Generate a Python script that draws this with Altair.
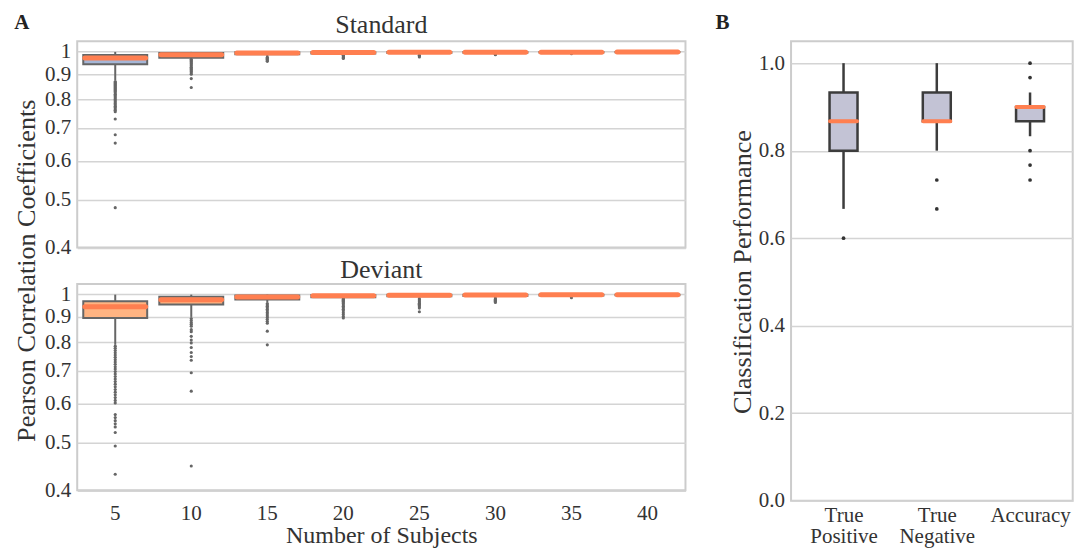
import json
import altair as alt
import pandas as pd

FONT = "Liberation Serif"
TXT = "#333333"

# ---------------- Panel A data ----------------
subjects = [5, 10, 15, 20, 25, 30, 35, 40]

std_q1 = [0.943, 0.972, 0.988, 0.992, 0.994, 0.995, 0.996, 0.997]
std_q3 = [0.985, 0.994, 0.997, 0.998, 0.999, 0.999, 0.999, 0.999]
std_med = [0.971, 0.986, 0.994, 0.996, 0.997, 0.998, 0.998, 0.999]
std_lo = [0.875, 0.970, 0.980, 0.987, 0.990, 0.992, 0.994, 0.995]
std_hi = [0.999, 0.999, 0.999, 0.999, 0.999, 0.999, 0.999, 0.999]

std_out_5 = [0.870, 0.866, 0.862, 0.858, 0.854, 0.850, 0.846, 0.842, 0.838, 0.834,
             0.830, 0.825, 0.820, 0.815, 0.810, 0.805, 0.800, 0.795, 0.790, 0.785,
             0.780, 0.775, 0.770, 0.765, 0.760, 0.755, 0.730, 0.678, 0.652, 0.482]
std_out_10 = [0.965, 0.960, 0.955, 0.950, 0.945, 0.940, 0.935, 0.930, 0.925, 0.920,
              0.915, 0.910, 0.905, 0.900, 0.882, 0.846]
std_out_15 = [0.975, 0.970, 0.965, 0.960, 0.956]
std_out_20 = [0.984, 0.980, 0.976, 0.972, 0.969]
std_out_25 = [0.984, 0.980, 0.976]
std_out_30 = [0.988, 0.986]
std_out_35 = [0.991]
std_out_40 = []

dev_q1 = [0.896, 0.954, 0.977, 0.987, 0.991, 0.993, 0.995, 0.996]
dev_q3 = [0.969, 0.989, 0.995, 0.997, 0.998, 0.999, 0.999, 0.999]
dev_med = [0.944, 0.975, 0.988, 0.994, 0.996, 0.997, 0.998, 0.998]
dev_lo = [0.790, 0.900, 0.963, 0.985, 0.985, 0.988, 0.990, 0.993]
dev_hi = [0.999, 0.999, 0.999, 0.999, 0.999, 0.999, 0.999, 0.999]

dev_out_5 = [0.785, 0.777, 0.769, 0.761, 0.753, 0.745, 0.737, 0.729, 0.721, 0.713,
             0.705, 0.697, 0.689, 0.681, 0.673, 0.665, 0.657, 0.649, 0.641, 0.633,
             0.625, 0.617, 0.609, 0.602, 0.570, 0.562, 0.554, 0.546, 0.538, 0.524,
             0.492, 0.431]
dev_out_10 = [0.893, 0.885, 0.877, 0.870, 0.862, 0.848, 0.840, 0.822, 0.808, 0.797,
              0.780, 0.762, 0.748, 0.735, 0.693, 0.636, 0.448]
dev_out_15 = [0.958, 0.952, 0.946, 0.940, 0.933, 0.926, 0.919, 0.912, 0.905, 0.898,
              0.890, 0.882, 0.874, 0.842, 0.790]
dev_out_20 = [0.983, 0.978, 0.973, 0.968, 0.963, 0.958, 0.952, 0.946, 0.940, 0.933,
              0.926, 0.918, 0.910, 0.902, 0.896]
dev_out_25 = [0.980, 0.975, 0.970, 0.965, 0.960, 0.955, 0.950, 0.944, 0.938, 0.922]
dev_out_30 = [0.983, 0.978, 0.973, 0.968, 0.963]
dev_out_35 = [0.985]
dev_out_40 = []

y_ticks_A = [0.4, 0.5, 0.6, 0.7, 0.8, 0.9, 1.0]

# ---------------- Panel B data ----------------
cats_B = ["True Positive", "True Negative", "Accuracy"]
b_q1 = [0.800, 0.867, 0.867]
b_q3 = [0.933, 0.933, 0.900]
b_med = [0.867, 0.867, 0.900]
b_lo = [0.667, 0.800, 0.833]
b_hi = [1.000, 1.000, 0.933]
b_out_tp = [0.600]
b_out_tn = [0.733, 0.667]
b_out_acc = [1.000, 0.967, 0.800, 0.767, 0.733]
y_ticks_B = [0.0, 0.2, 0.4, 0.6, 0.8, 1.0]

MED_COLOR = "#FF7F50"


def outlier_frame(lists, keys, keyname):
    rows = []
    for k, vals in zip(keys, lists):
        for v in vals:
            rows.append({keyname: k, "value": v})
    return pd.DataFrame(rows, columns=[keyname, "value"])


def panel_A(q1, q3, med, lo, hi, outs, fill, title, first, title_offset):
    box_df = pd.DataFrame({"subjects": subjects, "q1": q1, "q3": q3,
                           "med": med, "lo": lo, "hi": hi})
    out_df = outlier_frame(outs, subjects, "subjects")
    yscale = alt.Scale(type="log", domain=[0.4, 1.05], nice=False, zero=False)
    lab = "datum.value == 1 ? '1' : format(datum.value, '.1f')"
    if first:
        yaxis = alt.Axis(values=y_ticks_A, labelExpr=lab,
                         title="Pearson Correlation Coefficients", titleFontSize=26.2,
                         titleX=-42.7, titleY=229.2, titleAngle=-90, titleAlign="center",
                         titleBaseline="alphabetic", labelFontSize=21, labelPadding=6.5)
        xaxis = None
    else:
        yaxis = alt.Axis(values=y_ticks_A, labelExpr=lab, title=None,
                         labelFontSize=21, labelPadding=6.5)
        xaxis = alt.Axis(title="Number of Subjects", titleFontSize=24, titleX=304.5,
                         titleY=52.5, titleBaseline="alphabetic", labelFontSize=21,
                         labelBaseline="alphabetic", labelPadding=29, labelAngle=0,
                         grid=False)
    xs = alt.Scale(paddingInner=0, paddingOuter=0)
    x = alt.X("subjects:O", scale=xs, axis=xaxis)

    def Y(f):
        return alt.Y(f, type="quantitative", scale=yscale, axis=yaxis)

    whisk = alt.Chart(box_df).mark_rule(color="#666666", strokeWidth=2).encode(
        x=x, y=Y("lo"), y2="hi")
    box = alt.Chart(box_df).mark_bar(size=64, fill=fill, stroke="#666666",
                                     strokeWidth=2).encode(x=x, y=Y("q1"), y2="q3")
    pts = alt.Chart(out_df).mark_circle(size=10, color="#666666", opacity=1).encode(
        x=x, y=Y("value"))
    medm = alt.Chart(box_df).mark_tick(size=66, thickness=5, color=MED_COLOR,
                                       opacity=1, cornerRadius=2.5).encode(
        x=x, y=Y("med"))
    return alt.layer(whisk, box, pts, medm).properties(
        width=609, height=206.5,
        title=alt.TitleParams(title, fontSize=26, font=FONT, fontWeight="normal",
                              anchor="middle", frame="group", offset=title_offset,
                              baseline="alphabetic", color=TXT))


std = panel_A(std_q1, std_q3, std_med, std_lo, std_hi,
              [std_out_5, std_out_10, std_out_15, std_out_20, std_out_25,
               std_out_30, std_out_35, std_out_40],
              "#A5B6D6", "Standard", True, -18.4)
dev = panel_A(dev_q1, dev_q3, dev_med, dev_lo, dev_hi,
              [dev_out_5, dev_out_10, dev_out_15, dev_out_20, dev_out_25,
               dev_out_30, dev_out_35, dev_out_40],
              "#FFB482", "Deviant", False, -21)

panelA = alt.vconcat(std, dev, spacing=36, bounds="flush").properties(
    title=alt.TitleParams("A", fontSize=21, font=FONT, fontWeight="bold",
                          anchor="start", frame="group", dx=-63, offset=-38.6,
                          baseline="alphabetic", color="#222222"))

# ---------------- Panel B ----------------
# categories sit at positions 0, 1, 2 of a linear x scale; the reference panel
# runs past the right edge of the figure, so the domain ends before 2.5
idx_B = list(range(len(cats_B)))
bbox_df = pd.DataFrame({"idx": idx_B, "cat": cats_B, "q1": b_q1, "q3": b_q3,
                        "med": b_med, "lo": b_lo, "hi": b_hi})
bout_df = outlier_frame([b_out_tp, b_out_tn, b_out_acc], idx_B, "idx")
label_lines = [c.split(" ") for c in cats_B]
labelB = "%s[datum.value]" % json.dumps(label_lines)

ysB = alt.Scale(domain=[0, 1.05], nice=False, zero=False)
yaxB = alt.Axis(values=y_ticks_B, format=".1f", title="Classification Performance",
                titleFontSize=26.2, titleX=-40.7, titleY=230.5, titleAngle=-90,
                titleAlign="center", titleBaseline="alphabetic", labelFontSize=21,
                labelPadding=6.5)
xB = alt.X("idx:Q",
           scale=alt.Scale(domain=[-0.5093, 2.4039], nice=False, zero=False),
           axis=alt.Axis(title=None, values=idx_B, labelAngle=0, labelExpr=labelB,
                         labelFontSize=21, labelBaseline="alphabetic", labelPadding=20.7,
                         labelLineHeight=21.6, labelFlush=False, labelOverlap=False,
                         labelBound=False, grid=False))


def YB(f):
    return alt.Y(f, type="quantitative", scale=ysB, axis=yaxB)


bw = alt.Chart(bbox_df).mark_rule(color="#3C3C3C", strokeWidth=2.5).encode(
    x=xB, y=YB("lo"), y2="hi")
bb = alt.Chart(bbox_df).mark_bar(size=28, fill="#C3C3D5", stroke="#3C3C3C",
                                 strokeWidth=2.5).encode(x=xB, y=YB("q1"), y2="q3")
bp = alt.Chart(bout_df).mark_circle(size=14, color="#333333", opacity=1).encode(
    x=xB, y=YB("value"))
bm = alt.Chart(bbox_df).mark_tick(size=31, thickness=4, color=MED_COLOR, opacity=1,
                                  cornerRadius=2, orient="horizontal").encode(
    x=xB, y=YB("med"))
panelB = alt.layer(bw, bb, bp, bm).properties(
    width=282, height=460,
    title=alt.TitleParams("B", fontSize=21, font=FONT, fontWeight="bold",
                          anchor="start", frame="group", dx=-75.7, offset=-8.7,
                          baseline="alphabetic", color="#222222"))

# panel A's nested column has no fixed width in a flush layout, so the
# spacing carries its plot width (609) plus the gap between the panels.
chart = alt.hconcat(panelA, panelB, spacing=714.7, bounds="flush").properties(
    padding={"left": 4.3, "top": 2, "right": 0, "bottom": 0}
).configure(font=FONT).configure_axis(
    labelFont=FONT, titleFont=FONT, labelColor=TXT, titleColor=TXT,
    titleFontWeight="normal", gridColor="#D4D4D4", gridWidth=1.5,
    domain=False, ticks=False, tickSize=0
).configure_view(stroke="#CCCCCC", strokeWidth=2)

chart.save("out.html", embed_options={"renderer": "svg", "actions": False})
